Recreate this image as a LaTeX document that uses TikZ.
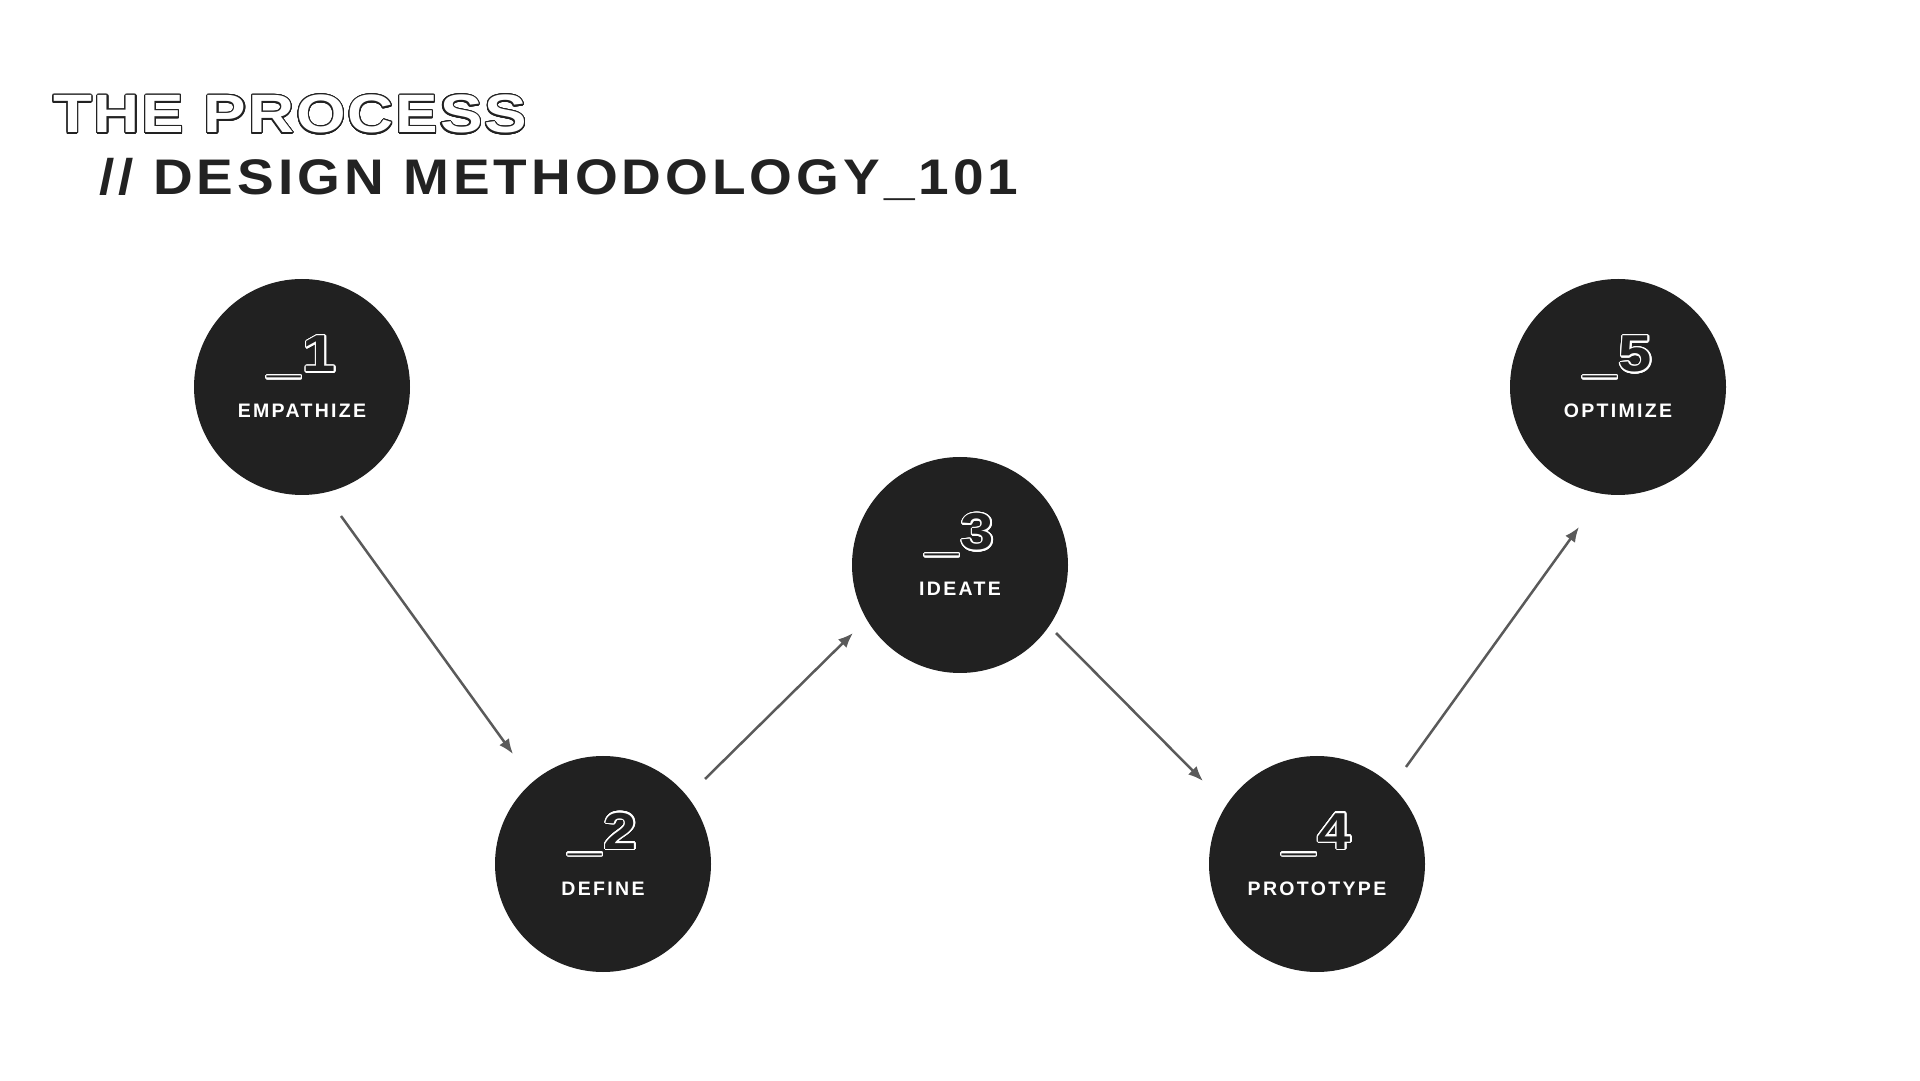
\documentclass[tikz,border=0pt]{standalone}
\usepackage{fontspec}
\usepackage{contour}
\usetikzlibrary{arrows.meta,calc,positioning}
\setmainfont{Liberation Sans}
\newfontfamily\titlefont[FakeStretch=1.18,LetterSpace=3.5]{Liberation Sans}
\newfontfamily\headfont[FakeStretch=1.1,LetterSpace=8]{Liberation Sans}
\newfontfamily\numfont[FakeStretch=1.15]{Liberation Sans}
\newfontfamily\labelfont[LetterSpace=12]{Liberation Sans}
\contourlength{1.1pt}
\contournumber{32}

\definecolor{stagedark}{HTML}{212121}
\definecolor{textdark}{HTML}{222222}
\definecolor{linegray}{HTML}{5A5A5A}

\tikzstyle{stage} = [circle, fill=stagedark, minimum size=216pt, inner sep=0pt]
\tikzstyle{num} = [text=stagedark, inner sep=0pt, anchor=base,
		font=\numfont\bfseries\fontsize{52}{52}\selectfont]
\tikzstyle{caption} = [text=white, inner sep=0pt, anchor=base,
		font=\labelfont\bfseries\fontsize{19.5}{20}\selectfont]
\tikzstyle{line} = [draw=linegray, line width=2.5pt, -{Latex[length=15pt,width=12pt]}]

\begin{document}
\begin{tikzpicture}[x=1pt, y=1pt]
		\useasboundingbox (0,0) rectangle (1920,1080);
		%Title
		\node [anchor=base west, inner sep=0pt, text=white,
			font=\titlefont\bfseries\fontsize{54}{54}\selectfont] (title) at (53,947) {\contour{textdark}{THE PROCESS}};
		\node [anchor=base west, inner sep=0pt, text=textdark,
			font=\headfont\bfseries\fontsize{50}{50}\selectfont] (subtitle) at (99,885) {// DESIGN METHODOLOGY\_101};
		
		%stages
		\node [stage] (s1) at (302,693) {};
		\node [stage] (s2) at (603,216) {};
		\node [stage] (s3) at (960,515) {};
		\node [stage] (s4) at (1317,216) {};
		\node [stage] (s5) at (1618,693) {};
		
		%numbers
		\node [num] (n1) at ([yshift=15pt]s1.center) {\contour{white}{\_\kern2pt1}};
		\node [num] (n2) at ([yshift=15pt]s2.center) {\contour{white}{\_\kern2pt2}};
		\node [num] (n3) at ([yshift=15pt]s3.center) {\contour{white}{\_\kern2pt3}};
		\node [num] (n4) at ([yshift=15pt]s4.center) {\contour{white}{\_\kern2pt4}};
		\node [num] (n5) at ([yshift=15pt]s5.center) {\contour{white}{\_\kern2pt5}};
		
		%captions
		\node [caption] (l1) at ([yshift=-31pt]s1.center) {EMPATHIZE};
		\node [caption] (l2) at ([yshift=-31pt]s2.center) {DEFINE};
		\node [caption] (l3) at ([yshift=-31pt]s3.center) {IDEATE};
		\node [caption] (l4) at ([yshift=-31pt]s4.center) {PROTOTYPE};
		\node [caption] (l5) at ([yshift=-31pt]s5.center) {OPTIMIZE};
		
		%arrows
		\draw [line] ($(s1)+(39,-129)$) -- ($(s2)+(-90,110)$);
		\draw [line] ($(s2)+(102,85)$) -- ($(s3)+(-107,-68)$);
		\draw [line] ($(s3)+(96,-68)$) -- ($(s4)+(-114,83)$);
		\draw [line] ($(s4)+(89,97)$) -- ($(s5)+(-39,-140)$);
		
\end{tikzpicture}
\end{document}
